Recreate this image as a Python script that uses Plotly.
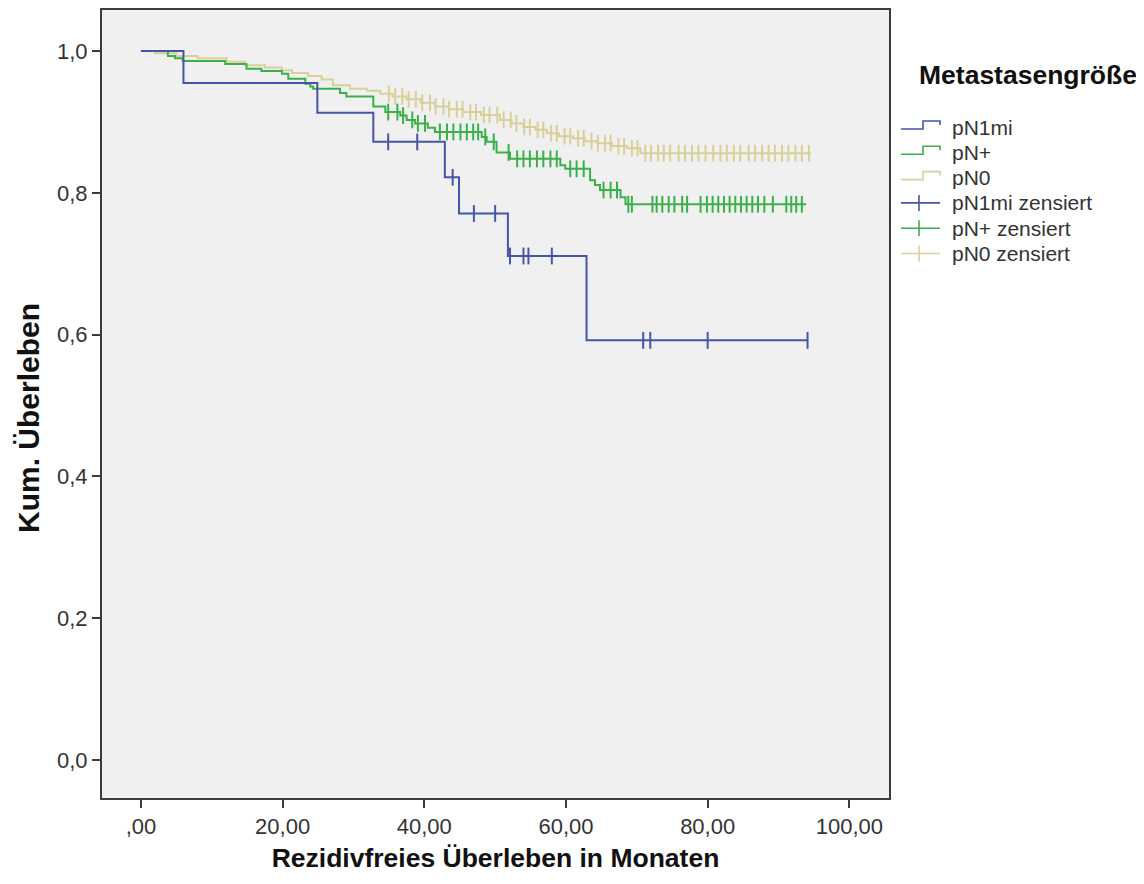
import plotly.graph_objects as go

# ---------------- data ----------------
# pN1mi : step times (months) and survival levels after each step
blue_times = [0, 6.0, 24.9, 32.8, 42.9, 44.9, 51.8, 62.9, 94.1]
blue_levels = [1.0, 0.955, 0.913, 0.872, 0.822, 0.771, 0.711, 0.592, 0.592]
blue_cens = [34.9, 39.0, 44.0, 47.0, 50.0, 52.1, 54.0, 54.7, 58.0, 70.9, 71.9, 80.0, 94.1]

# pN+
green_times = [0, 3.8, 4.8, 5.9, 11.9, 14.9, 17.0, 19.9, 20.8, 23.2, 23.9, 24.3, 28.1,
               29.0, 32.8, 34.5, 36.6, 37.5, 38.7, 40.5, 41.5, 48.1, 48.8, 50.2, 52.1,
               59.2, 59.9, 63.4, 64.1, 64.8, 67.7, 68.4, 93.9]
green_levels = [1.0, 0.993, 0.990, 0.986, 0.982, 0.975, 0.972, 0.968, 0.961, 0.954, 0.950,
                0.947, 0.941, 0.936, 0.922, 0.914, 0.909, 0.903, 0.898, 0.892, 0.886,
                0.879, 0.872, 0.857, 0.848, 0.839, 0.834, 0.818, 0.811, 0.804, 0.794,
                0.784, 0.784]
green_cens = [34.9, 36.2, 37.0, 38.3, 39.1, 40.1, 42.2, 43.2, 44.1, 45.1, 46.0, 46.9, 47.6,
              48.6, 49.8, 51.9, 53.1, 54.0, 54.9, 55.9, 56.8, 57.8, 58.7, 60.6, 61.5, 62.5,
              65.3, 66.3, 67.2, 68.8, 69.3, 72.2, 72.8, 73.6, 74.5, 75.3, 76.4, 77.1, 79.0,
              79.9, 80.7, 81.5, 82.3, 83.1, 83.9, 84.7, 85.5, 86.3, 87.1, 88.0, 89.2, 91.1,
              91.8, 92.5, 93.3]

# pN0
beige_times = [0, 2.0, 5.0, 8.0, 12.1, 14.7, 17.5, 19.9, 21.3, 23.6, 25.5, 27.1, 29.5, 31.9,
               33.8, 35.5, 37.5, 39.5, 41.5, 43.5, 45.5, 48.0, 50.7, 52.3, 54.0, 55.7, 57.3,
               59.0, 61.0, 62.7, 64.4, 66.5, 68.6, 70.5, 94.6]
beige_levels = [1.0, 0.997, 0.993, 0.990, 0.985, 0.980, 0.977, 0.973, 0.969, 0.965, 0.960,
                0.952, 0.947, 0.944, 0.940, 0.936, 0.932, 0.927, 0.922, 0.918, 0.914, 0.910,
                0.903, 0.898, 0.893, 0.889, 0.884, 0.880, 0.877, 0.873, 0.870, 0.866, 0.863,
                0.856, 0.856]
beige_cens = [35.0, 35.9, 36.9, 37.8, 38.8, 39.7, 40.8, 41.6, 42.7, 43.5, 44.6, 45.4, 46.5,
              47.3, 48.4, 49.2, 50.3, 51.2, 52.2, 53.0, 54.1, 54.9, 56.0, 56.8, 57.9, 58.7,
              59.8, 60.6, 61.7, 62.5, 63.6, 64.5, 65.5, 66.3, 67.4, 68.2, 69.3, 70.1, 71.2,
              72.0, 73.0, 73.8, 74.7, 75.9, 76.8, 77.8, 78.7, 79.7, 80.8, 81.8, 82.7, 83.7,
              84.6, 85.8, 86.7, 87.7, 88.6, 89.5, 90.5, 91.4, 92.4, 93.3, 94.3]

series_names = ["pN1mi", "pN+", "pN0"]
series_colors = ["#4556a8", "#3bb04a", "#d9d099"]
legend_title = "Metastasengröße"
x_title = "Rezidivfreies Überleben in Monaten"
y_title = "Kum. Überleben"

x_tickvals = [0, 20, 40, 60, 80, 100]
x_ticktext = [",00", "20,00", "40,00", "60,00", "80,00", "100,00"]
y_tickvals = [0, 0.2, 0.4, 0.6, 0.8, 1.0]
y_ticktext = ["0,0", "0,2", "0,4", "0,6", "0,8", "1,0"]


def level_at(times, levels, t):
    val = levels[0]
    for tt, lv in zip(times, levels):
        if tt <= t:
            val = lv
    return val


FONT = "Liberation Sans, Arial, sans-serif"

# ---------------- layout geometry (screen pixels; page body has 8px margin) ----------------
W, H = 1144, 884
PL, PR, PT, PB = 102, 889, 10, 798          # plot frame on screen
OFF = 8
ML, MT = PL - OFF, PT - OFF
PW, PH = PR - PL, PB - PT


def px(sx):
    return (sx - PL) / PW


def py(sy):
    return (PB - sy) / PH


fig = go.Figure()

curves = [(blue_times, blue_levels, blue_cens),
          (green_times, green_levels, green_cens),
          (beige_times, beige_levels, beige_cens)]

for i in [2, 1, 0]:
    t, lv, cens = curves[i]
    fig.add_trace(go.Scatter(x=t, y=lv, mode="lines", name=series_names[i],
                             line=dict(color=series_colors[i], width=2, shape="hv"),
                             showlegend=False, hoverinfo="skip"))
    fig.add_trace(go.Scatter(x=cens, y=[level_at(t, lv, c) for c in cens], mode="markers",
                             name=series_names[i] + " zensiert",
                             marker=dict(symbol="line-ns-open", size=12, color=series_colors[i],
                                         line=dict(color=series_colors[i], width=2)),
                             showlegend=False, hoverinfo="skip"))

# ---------------- hand-built legend (SPSS style) ----------------
shapes = []
annotations = []
item_y = [127, 152.3, 177.6, 202.9, 228.2, 253.5]
icon_x0, icon_x1, icon_mid = 901, 940, 923
text_x = 950
labels = series_names + [n + " zensiert" for n in series_names]
for k, lab in enumerate(labels):
    c = series_colors[k % 3]
    yc = item_y[k]
    if k < 3:
        path = "M {:.5f},{:.5f} L {:.5f},{:.5f} L {:.5f},{:.5f} L {:.5f},{:.5f} L {:.5f},{:.5f}".format(
            px(icon_x0), py(yc + 2), px(icon_mid), py(yc + 2), px(icon_mid), py(yc - 6),
            px(icon_x1), py(yc - 6), px(icon_x1), py(yc - 2))
        shapes.append(dict(type="path", xref="paper", yref="paper", path=path,
                           line=dict(color=c, width=1.6)))
    else:
        shapes.append(dict(type="line", xref="paper", yref="paper",
                           x0=px(icon_x0), x1=px(icon_x1), y0=py(yc), y1=py(yc),
                           line=dict(color=c, width=1.6)))
        shapes.append(dict(type="line", xref="paper", yref="paper",
                           x0=px(icon_mid - 4), x1=px(icon_mid - 4), y0=py(yc - 8), y1=py(yc + 8),
                           line=dict(color=c, width=1.6)))
    annotations.append(dict(text=lab, xref="paper", yref="paper", x=px(text_x), y=py(yc),
                            xanchor="left", yanchor="middle", showarrow=False,
                            font=dict(family=FONT, size=21, color="#333333")))

annotations.append(dict(text="<b>" + legend_title + "</b>", xref="paper", yref="paper",
                        x=px(1028), y=py(75), xanchor="center", yanchor="middle", showarrow=False,
                        font=dict(family=FONT, size=26.5, color="#111111")))

# y axis title (placed like the reference, slightly below the plot centre)
annotations.append(dict(text="<b>" + y_title + "</b>", xref="paper", yref="paper",
                        x=px(28), y=py(418), xanchor="center", yanchor="middle", showarrow=False,
                        textangle=-90,
                        font=dict(family=FONT, size=30, color="#111111")))

axis_common = dict(showline=True, mirror=True, linecolor="#3c3c3c", linewidth=2,
                   ticks="outside", ticklen=8, tickwidth=2, tickcolor="#3c3c3c",
                   showgrid=False, zeroline=False, automargin=False,
                   tickfont=dict(family=FONT, size=22, color="#333333"))

fig.update_layout(
    width=W, height=H,
    margin=dict(l=ML, r=W - ML - PW, t=MT, b=H - MT - PH),
    paper_bgcolor="white", plot_bgcolor="#f0f0f0",
    font=dict(family=FONT),
    showlegend=False,
    xaxis=dict(range=[-5.5, 105.6], tickvals=x_tickvals, ticktext=x_ticktext,
               title=dict(text="<b>" + x_title + "</b>", standoff=10,
                          font=dict(family=FONT, size=26.5, color="#111111")),
               **axis_common),
    yaxis=dict(range=[-0.0536, 1.058], tickvals=y_tickvals, ticktext=y_ticktext,
               **axis_common),
    shapes=shapes,
    annotations=annotations,
)

fig.write_html("out.html")
